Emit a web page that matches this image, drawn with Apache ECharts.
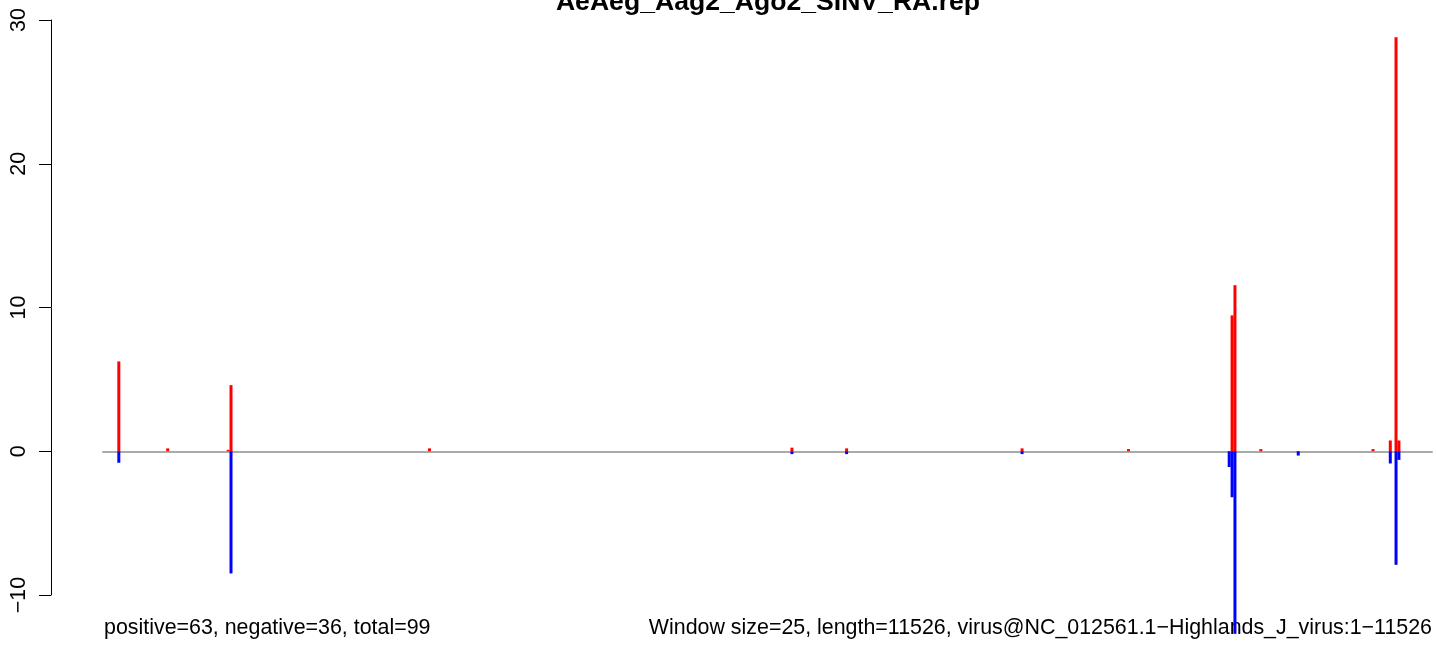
<!DOCTYPE html>
<html>
<head>
<meta charset="utf-8">
<script src="https://cdn.jsdelivr.net/npm/echarts@6/dist/echarts.min.js"></script>
<style>
html,body{margin:0;padding:0;background:#fff;}
#chart{width:1436px;height:646px;}
</style>
</head>
<body>
<div id="chart"></div>
<script>
// ---- data ----
const windowCount = 462; // windows of 25 nt over length 11526
const titleText = 'AeAeg_Aag2_Ago2_SINV_RA.rep';
const leftNote = 'positive=63, negative=36, total=99';
const rightNote = 'Window size=25, length=11526, virus@NC_012561.1\u2212Highlands_J_virus:1\u221211526';
const yTicks = [-10, 0, 10, 20, 30];

// positive-strand (red) windows and values
const posWindows = [5, 22, 43, 44, 113, 239, 258, 319, 356, 392, 393, 402, 441, 447, 449, 450];
const posValues  = [6.25, 0.2, 0.1, 4.6, 0.2, 0.25, 0.2, 0.2, 0.15, 9.45, 11.55, 0.15, 0.15, 0.75, 28.8, 0.75];
// negative-strand (blue) windows and values
const negWindows = [5, 44, 239, 258, 319, 391, 392, 393, 415, 447, 449, 450];
const negValues  = [-0.8, -8.5, -0.2, -0.2, -0.2, -1.1, -3.2, -12.7, -0.3, -0.85, -7.9, -0.6];

// ---- build series arrays ----
const categories = [];
for (let i = 0; i < windowCount; i++) categories.push(String(i + 1));
const posData = new Array(windowCount).fill(null);
const negData = new Array(windowCount).fill(null);
posWindows.forEach((w, k) => { posData[w] = posValues[k]; });
negWindows.forEach((w, k) => { negData[w] = negValues[k]; });

const FONT = '"Liberation Sans", Arial, Helvetica, sans-serif';
const chart = echarts.init(document.getElementById('chart'), null, {renderer: 'canvas'});
chart.setOption({
  animation: false,
  backgroundColor: '#ffffff',
  grid: {left: 103, right: 4, top: 20, bottom: 51, containLabel: false},
  xAxis: {
    type: 'category',
    data: categories,
    boundaryGap: true,
    axisLine: {show: true, onZero: true, lineStyle: {color: '#aaaaaa', width: 2}},
    axisTick: {show: false},
    axisLabel: {show: false},
    splitLine: {show: false}
  },
  yAxis: {
    type: 'value',
    min: yTicks[0],
    max: yTicks[yTicks.length - 1],
    interval: 10,
    offset: 52,
    axisLine: {show: true, lineStyle: {color: '#000000', width: 1}},
    axisTick: {show: true, length: 12, lineStyle: {color: '#000000', width: 1}},
    axisLabel: {
      rotate: 90, margin: 21, color: '#000000', fontSize: 21.4, fontFamily: FONT,
      formatter: v => (v < 0 ? '\u2212' + Math.abs(v) : String(v))
    },
    splitLine: {show: false}
  },
  series: [
    {
      type: 'bar', name: 'positive', data: posData,
      barWidth: 3, barGap: '-100%', clip: false,
      itemStyle: {color: '#ff0000'}, z: 3
    },
    {
      type: 'bar', name: 'negative', data: negData,
      barWidth: 3, barGap: '-100%', clip: false,
      itemStyle: {color: '#0000ff'}, z: 3
    }
  ],
  graphic: [
    {type: 'text', style: {text: titleText, x: 768, y: 3, font: 'bold 26.6px ' + FONT, fill: '#000', textAlign: 'center', textVerticalAlign: 'middle', verticalAlign: 'middle'}},
    {type: 'text', style: {text: leftNote, x: 104, y: 628, font: '21.4px ' + FONT, fill: '#000', textAlign: 'left', textVerticalAlign: 'middle', verticalAlign: 'middle'}},
    {type: 'text', style: {text: rightNote, x: 1432, y: 628, font: '21.4px ' + FONT, fill: '#000', textAlign: 'right', textVerticalAlign: 'middle', verticalAlign: 'middle'}}
  ]
});
</script>
</body>
</html>
